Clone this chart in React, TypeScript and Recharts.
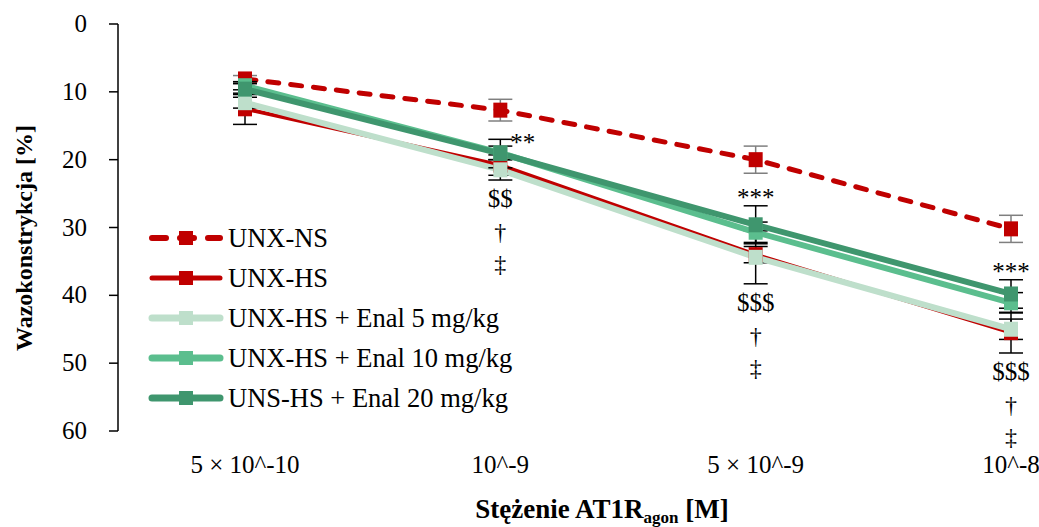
import React from 'react';
import { LineChart, Line, XAxis, YAxis, ErrorBar, LabelList } from 'recharts';

// Concentrations of the AT1R agonist (category axis)
const categories = ['5 × 10^-10', '10^-9', '5 × 10^-9', '10^-8'];

// Vasoconstriction [%] per group, with SEM
const unxNs = [8.1, 12.7, 20.0, 30.2];
const unxNsErr = [0.5, 1.6, 2.0, 2.0];
const unxHs = [12.5, 20.8, 34.0, 45.5];
const unxHsErr = [2.3, 1.5, 1.2, 3.0];
const enal5 = [11.6, 21.5, 34.4, 45.0];
const enal5Err = [0.8, 1.5, 3.9, 1.5];
const enal10 = [9.1, 19.0, 30.7, 41.1];
const enal10Err = [0.6, 1.0, 1.5, 1.5];
const enal20 = [9.6, 19.1, 29.6, 39.8];
const enal20Err = [0.8, 2.1, 2.8, 2.1];

// Significance marks per concentration
const sigStars = ['', '**', '***', '***'];
const sigDollar = ['', '$$', '$$$', '$$$'];
const sigDagger = ['', '†', '†', '†'];
const sigDoubleDagger = ['', '‡', '‡', '‡'];

const yTicks = [0, 10, 20, 30, 40, 50, 60];

const FONT = 'Liberation Serif, Times New Roman, serif';

const series = [
  { key: 'ns', name: 'UNX-NS', color: '#C00000', width: 5, dash: '11 12', errColor: '#7f7f7f' },
  { key: 'hs', name: 'UNX-HS', color: '#C00000', width: 4, dash: undefined, errColor: '#000' },
  { key: 'e5', name: 'UNX-HS + Enal 5 mg/kg', color: '#BEDFCB', width: 6, dash: undefined, errColor: '#000' },
  { key: 'e10', name: 'UNX-HS + Enal 10 mg/kg', color: '#5BBE8E', width: 6, dash: undefined, errColor: '#000' },
  { key: 'e20', name: 'UNS-HS + Enal 20 mg/kg', color: '#3F966E', width: 6, dash: undefined, errColor: '#000' },
];

const treated = [
  [unxHs, unxHsErr],
  [enal5, enal5Err],
  [enal10, enal10Err],
  [enal20, enal20Err],
];

const data = categories.map((conc, i) => ({
  conc,
  ns: unxNs[i], nsErr: unxNsErr[i],
  hs: unxHs[i], hsErr: unxHsErr[i],
  e5: enal5[i], e5Err: enal5Err[i],
  e10: enal10[i], e10Err: enal10Err[i],
  e20: enal20[i], e20Err: enal20Err[i],
  // anchors for the significance marks: ends of the outermost error bars
  sigTop: Math.min(...treated.map(([v, e]) => v[i] - e[i])),
  sigBottom: Math.max(...treated.map(([v, e]) => v[i] + e[i])),
  stars: sigStars[i],
  dollar: sigDollar[i],
  dagger: sigDagger[i],
  ddagger: sigDoubleDagger[i],
}));

const squareDot = (color: string) => (props: any) => {
  const { cx, cy, index } = props;
  if (cx == null || cy == null) return <g key={`d-${index}`} />;
  return <rect key={`d-${index}`} x={cx - 7} y={cy - 7.5} width={14} height={15} fill={color} />;
};

const XTick = (props: any) => {
  const { x, y, payload } = props;
  return (
    <text x={x} y={y} dy={18} textAnchor="middle" style={{ fontFamily: FONT }} fontSize={25} fill="#000">
      {payload.value}
    </text>
  );
};

const YTick = (props: any) => {
  const { x, y, payload } = props;
  return (
    <text x={x} y={y} dy={8} textAnchor="end" style={{ fontFamily: FONT }} fontSize={25} fill="#000">
      {payload.value}
    </text>
  );
};

const StarsLabel = (props: any) => {
  const { x, y, index } = props;
  const text = sigStars[index];
  if (!text) return null;
  const beside = index === 1;
  return (
    <text
      x={beside ? x + 10 : x}
      y={beside ? y + 12 : y}
      textAnchor={beside ? 'start' : 'middle'}
      style={{ fontFamily: FONT }}
      fontSize={25}
      fill="#000"
    >
      {text}
    </text>
  );
};

const BottomMarks = (props: any) => {
  const { x, y, index } = props;
  const d = data[index];
  if (!d || !d.dollar) return null;
  return (
    <g style={{ fontFamily: FONT }} fill="#000" textAnchor="middle">
      <text x={x} y={y + 27} fontSize={25}>{d.dollar}</text>
      <text x={x} y={y + 60} fontSize={24}>{d.dagger}</text>
      <text x={x} y={y + 92} fontSize={24}>{d.ddagger}</text>
    </g>
  );
};

const LegendBox = () => (
  <div
    style={{
      position: 'absolute',
      left: 148,
      top: 218,
      fontFamily: FONT,
      fontSize: 26.5,
      color: '#000',
    }}
  >
    {series.map((s) => (
      <div key={s.key} style={{ display: 'flex', alignItems: 'center', height: 40 }}>
        <svg width={76} height={20} style={{ marginRight: 4 }}>
          <line
            x1={4}
            x2={72}
            y1={10}
            y2={10}
            stroke={s.color}
            strokeWidth={s.width + 1}
            strokeDasharray={s.dash ? '14 14' : undefined}
            strokeLinecap="round"
          />
          <rect x={31} y={3} width={14} height={14} fill={s.color} />
        </svg>
        <span style={{ lineHeight: '40px', whiteSpace: 'nowrap' }}>{s.name}</span>
      </div>
    ))}
  </div>
);

export default function App() {
  return (
    <div
      style={{
        position: 'absolute',
        left: 0,
        top: 0,
        width: 1039,
        height: 527,
        overflow: 'hidden',
        background: '#fff',
        fontFamily: FONT,
      }}
    >
      <LineChart width={1160} height={527} data={data} margin={{ top: 24, right: 22, bottom: 0, left: 0 }}>
        <XAxis
          dataKey="conc"
          height={96}
          axisLine={false}
          tickLine={false}
          tickSize={0}
          tickMargin={24}
          padding={{ left: 127, right: 127 }}
          tick={<XTick />}
          interval={0}
          label={{
            content: () => (
              <text
                x={602}
                y={518}
                textAnchor="middle"
                style={{ fontFamily: FONT }}
                fontSize={27}
                fontWeight="bold"
                fill="#000"
              >
                Stężenie AT1R
                <tspan fontSize={17} dy={5}>agon</tspan>
                <tspan dy={-5}> [M]</tspan>
              </text>
            ),
          }}
        />
        <YAxis
          width={118}
          reversed
          domain={[0, 60]}
          ticks={yTicks}
          interval={0}
          tickSize={9}
          tickMargin={22}
          axisLine={{ stroke: '#000', strokeWidth: 1.5 }}
          tickLine={{ stroke: '#000', strokeWidth: 1.5 }}
          tick={<YTick />}
          label={{
            content: () => (
              <text
                x={32}
                y={238}
                transform="rotate(-90 32 238)"
                textAnchor="middle"
                style={{ fontFamily: FONT }}
                fontSize={24}
                fontWeight="bold"
                fill="#000"
              >
                Wazokonstrykcja [%]
              </text>
            ),
          }}
        />
        {series.map((s) => (
          <Line
            key={s.key}
            dataKey={s.key}
            name={s.name}
            type="linear"
            stroke={s.color}
            strokeWidth={s.width}
            strokeDasharray={s.dash}
            strokeLinecap="round"
            dot={squareDot(s.color)}
            activeDot={false}
            isAnimationActive={false}
          >
            <ErrorBar dataKey={`${s.key}Err`} width={12} stroke={s.errColor} strokeWidth={1.5} direction="y" />
          </Line>
        ))}
        <Line dataKey="sigTop" stroke="none" dot={false} activeDot={false} isAnimationActive={false}>
          <LabelList dataKey="stars" content={<StarsLabel />} />
        </Line>
        <Line dataKey="sigBottom" stroke="none" dot={false} activeDot={false} isAnimationActive={false}>
          <LabelList dataKey="dollar" content={<BottomMarks />} />
        </Line>
      </LineChart>
      <LegendBox />
    </div>
  );
}
